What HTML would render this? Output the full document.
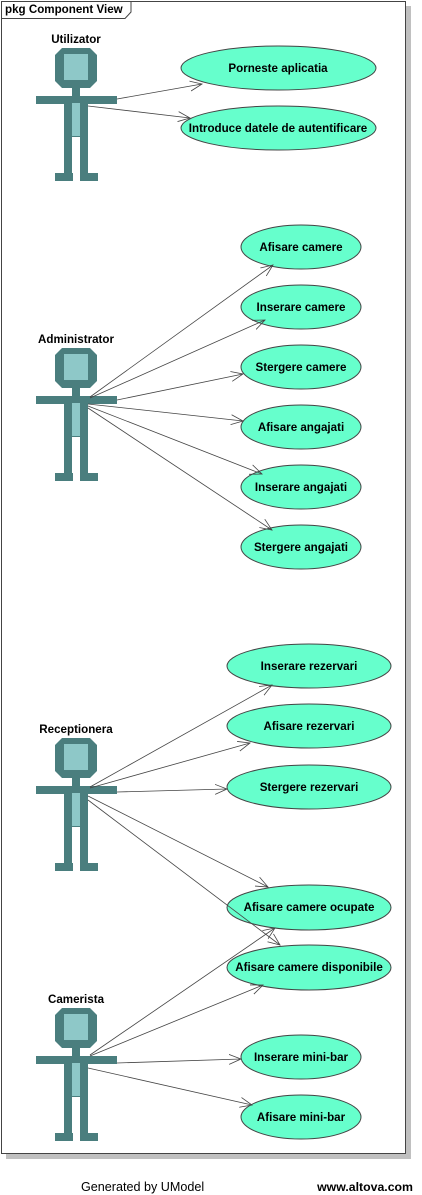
<!DOCTYPE html>
<html><head><meta charset="utf-8"><style>
html,body{margin:0;padding:0;background:#fff;width:422px;height:1195px;overflow:hidden}
svg{display:block}
text{font-family:"Liberation Sans",Arial,sans-serif;font-size:11.6px;font-weight:bold;fill:#000}
</style></head><body>
<svg width="422" height="1195" viewBox="0 0 422 1195" xmlns="http://www.w3.org/2000/svg">
<defs>
<marker id="a" markerWidth="14" markerHeight="12" refX="12" refY="6" orient="auto" markerUnits="userSpaceOnUse">
<polyline points="0,1 12,6 0,11" fill="none" stroke="#444" stroke-width="0.8"/>
</marker>
<g id="actor">
<polygon points="62,48 90,48 97,55 97,81 90,88 62,88 55,81 55,55" fill="#4a7e7e"/>
<rect x="64" y="54" width="24" height="26" fill="#8ec8c8"/>
<rect x="72" y="88" width="8" height="8" fill="#4a7e7e"/>
<rect x="36" y="96" width="81" height="8" fill="#4a7e7e"/>
<rect x="64" y="96" width="24" height="41" fill="#4a7e7e"/>
<rect x="72" y="103" width="8" height="33" fill="#8ec8c8"/>
<rect x="64" y="137" width="8" height="40" fill="#4a7e7e"/>
<rect x="80" y="137" width="8" height="40" fill="#4a7e7e"/>
<rect x="55" y="173" width="18" height="8" fill="#4a7e7e"/>
<rect x="80" y="173" width="18" height="8" fill="#4a7e7e"/>
</g>
</defs>
<rect x="6" y="6" width="405" height="1153" fill="#c0c0c0"/>
<rect x="1.5" y="1.5" width="404" height="1152" fill="#fff" stroke="#444" stroke-width="1"/>
<path d="M1.5 18.5 H125 L131 12 V1.5" fill="none" stroke="#444"/>
<text x="5" y="13">pkg Component View</text>

<use href="#actor"/>
<use href="#actor" y="300"/>
<use href="#actor" y="690"/>
<use href="#actor" y="960"/>
<text x="76" y="43" text-anchor="middle">Utilizator</text>
<text x="76" y="343" text-anchor="middle">Administrator</text>
<text x="76" y="733" text-anchor="middle">Receptionera</text>
<text x="76" y="1003" text-anchor="middle">Camerista</text>

<g fill="#66ffcc" stroke="#444" stroke-width="1">
<ellipse cx="278.5" cy="68" rx="97.5" ry="22"/>
<ellipse cx="278.5" cy="128" rx="97.5" ry="22"/>
<ellipse cx="301" cy="247" rx="60" ry="22"/>
<ellipse cx="301" cy="307" rx="60" ry="22"/>
<ellipse cx="301" cy="367" rx="60" ry="22"/>
<ellipse cx="301" cy="427" rx="60" ry="22"/>
<ellipse cx="301" cy="487" rx="60" ry="22"/>
<ellipse cx="301" cy="547" rx="60" ry="22"/>
<ellipse cx="309" cy="666" rx="82" ry="22"/>
<ellipse cx="309" cy="726" rx="82" ry="22"/>
<ellipse cx="309" cy="787" rx="82" ry="22"/>
<ellipse cx="309" cy="907.5" rx="82" ry="22.5"/>
<ellipse cx="309" cy="967.5" rx="82" ry="22.5"/>
<ellipse cx="301" cy="1057" rx="60" ry="22"/>
<ellipse cx="301" cy="1117" rx="60" ry="22"/>
</g>
<g text-anchor="middle">
<text x="278" y="72">Porneste aplicatia</text>
<text x="278" y="132">Introduce datele de autentificare</text>
<text x="301" y="251">Afisare camere</text>
<text x="301" y="311">Inserare camere</text>
<text x="301" y="371">Stergere camere</text>
<text x="301" y="431">Afisare angajati</text>
<text x="301" y="491">Inserare angajati</text>
<text x="301" y="551">Stergere angajati</text>
<text x="309" y="670">Inserare rezervari</text>
<text x="309" y="730">Afisare rezervari</text>
<text x="309" y="791">Stergere rezervari</text>
<text x="309" y="911">Afisare camere ocupate</text>
<text x="309" y="971">Afisare camere disponibile</text>
<text x="301" y="1061">Inserare mini-bar</text>
<text x="301" y="1121">Afisare mini-bar</text>
</g>

<g stroke="#444" stroke-width="0.8" fill="none" marker-end="url(#a)">
<line x1="117" y1="99" x2="202" y2="84"/>
<line x1="88" y1="106" x2="190" y2="118"/>
<line x1="90" y1="397" x2="273" y2="265"/>
<line x1="90" y1="398" x2="265" y2="320"/>
<line x1="117" y1="400" x2="243" y2="374"/>
<line x1="88" y1="404" x2="243" y2="421"/>
<line x1="88" y1="406" x2="262" y2="474"/>
<line x1="88" y1="408" x2="272" y2="530"/>
<line x1="90" y1="787" x2="272" y2="685"/>
<line x1="90" y1="788" x2="250" y2="743"/>
<line x1="117" y1="792" x2="227" y2="789"/>
<line x1="88" y1="796" x2="268" y2="887"/>
<line x1="88" y1="800" x2="280" y2="945"/>
<line x1="90" y1="1055" x2="275" y2="928"/>
<line x1="90" y1="1056" x2="263" y2="985"/>
<line x1="117" y1="1063" x2="241" y2="1059"/>
<line x1="88" y1="1068" x2="252" y2="1105"/>
</g>

<text x="81" y="1191" style="font-weight:normal;font-size:12.6px">Generated by UModel</text>
<text x="413" y="1191" text-anchor="end" style="font-size:12.3px">www.altova.com</text>
</svg>
</body></html>
